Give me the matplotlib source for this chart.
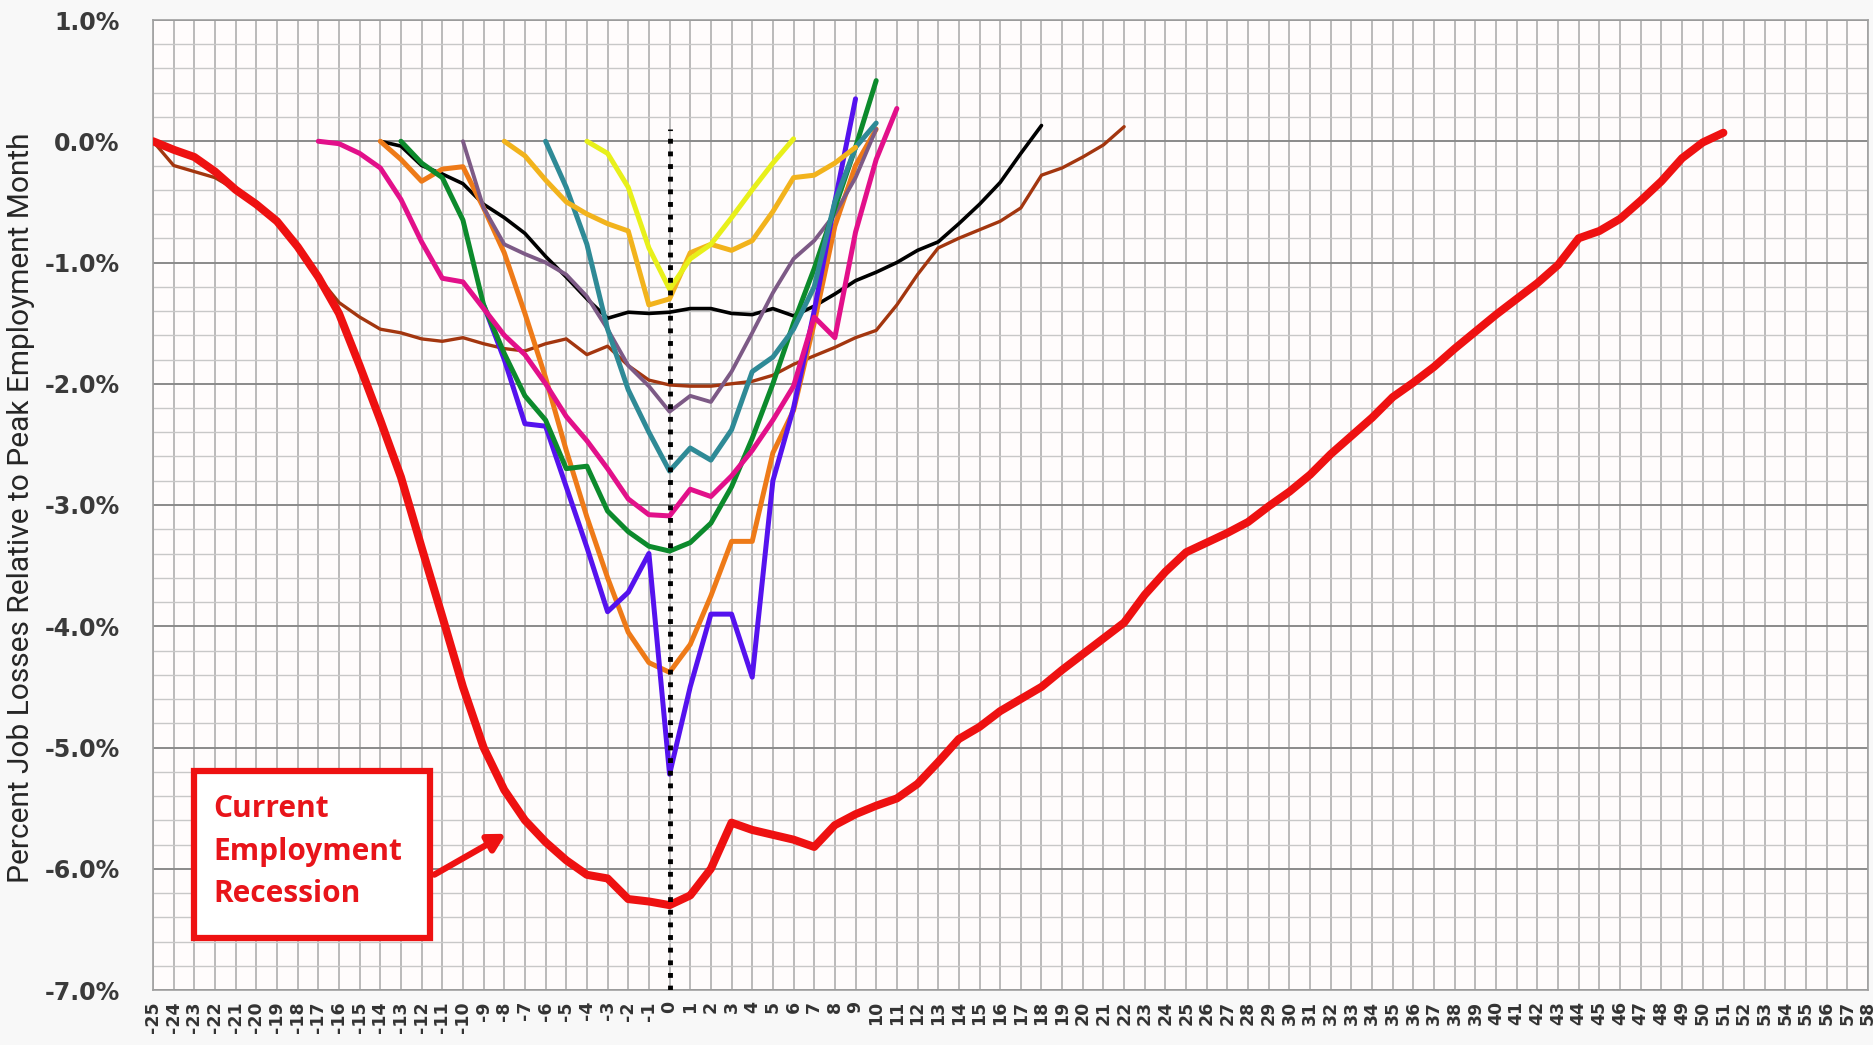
import numpy as np
import matplotlib
matplotlib.use("Agg")
import matplotlib.pyplot as plt
from matplotlib.ticker import MultipleLocator
from matplotlib.patches import Rectangle

# ------------------------------------------------------------
#  Data: percent job losses relative to peak employment month
#  (each series: first month, then one value per month)
# ------------------------------------------------------------

current_start = -25
current = [0.0, -0.07, -0.13, -0.25, -0.40, -0.52, -0.66, -0.87, -1.12, -1.42,
           -1.85, -2.30, -2.77, -3.35, -3.92, -4.50, -5.00, -5.35, -5.60, -5.78,
           -5.93, -6.05, -6.08, -6.25, -6.27, -6.30, -6.22, -6.00, -5.62, -5.68,
           -5.72, -5.76, -5.82, -5.64, -5.55, -5.48, -5.42, -5.30, -5.12, -4.93,
           -4.83, -4.70, -4.60, -4.50, -4.36, -4.23, -4.10, -3.97, -3.74, -3.55,
           -3.39, -3.31, -3.23, -3.14, -3.01, -2.89, -2.75, -2.58, -2.43, -2.28,
           -2.11, -1.99, -1.86, -1.71, -1.57, -1.43, -1.30, -1.17, -1.02, -0.80,
           -0.74, -0.64, -0.49, -0.33, -0.14, -0.01, 0.07]

brown_start = -25
brown = [0.0, -0.20, -0.25, -0.30, -0.40, -0.50, -0.66, -0.88, -1.12, -1.33,
         -1.45, -1.55, -1.58, -1.63, -1.65, -1.62, -1.67, -1.71, -1.73, -1.67,
         -1.63, -1.76, -1.69, -1.85, -1.97, -2.01, -2.02, -2.02, -2.00, -1.98,
         -1.93, -1.84, -1.77, -1.70, -1.62, -1.56, -1.35, -1.10, -0.88, -0.80,
         -0.73, -0.66, -0.55, -0.28, -0.22, -0.13, -0.03, 0.12]

black_start = -14
black = [0.0, -0.04, -0.20, -0.27, -0.35, -0.52, -0.63, -0.76, -0.95, -1.12,
         -1.30, -1.46, -1.41, -1.42, -1.41, -1.38, -1.38, -1.42, -1.43, -1.38,
         -1.44, -1.36, -1.26, -1.15, -1.08, -1.00, -0.90, -0.83, -0.68, -0.52,
         -0.34, -0.10, 0.13]

magenta_start = -17
magenta = [0.0, -0.02, -0.10, -0.22, -0.48, -0.83, -1.13, -1.16, -1.38, -1.60,
           -1.76, -2.00, -2.27, -2.47, -2.70, -2.95, -3.08, -3.09, -2.87, -2.93,
           -2.76, -2.55, -2.30, -2.02, -1.45, -1.62, -0.75, -0.15, 0.27]

green_start = -13
green = [0.0, -0.18, -0.30, -0.65, -1.35, -1.75, -2.10, -2.30, -2.70, -2.68,
         -3.05, -3.22, -3.34, -3.38, -3.31, -3.15, -2.85, -2.45, -2.00, -1.50,
         -1.05, -0.55, -0.05, 0.50]

blue_start = -9
blue = [-1.35, -1.80, -2.33, -2.35, -2.85, -3.35, -3.88, -3.72, -3.40, -5.22,
        -4.50, -3.90, -3.90, -4.42, -2.80, -2.20, -1.40, -0.50, 0.35]

orange_start = -14
orange = [0.0, -0.15, -0.33, -0.23, -0.21, -0.55, -0.92, -1.42, -1.95, -2.55,
          -3.10, -3.60, -4.05, -4.30, -4.38, -4.15, -3.75, -3.30, -3.30, -2.57,
          -2.22, -1.50, -0.70, -0.20, 0.10]

purple_start = -10
purple = [0.0, -0.55, -0.85, -0.93, -1.00, -1.10, -1.28, -1.55, -1.85, -2.02,
          -2.23, -2.10, -2.15, -1.90, -1.58, -1.25, -0.97, -0.82, -0.60, -0.30,
          0.10]

gold_start = -8
gold = [0.0, -0.12, -0.32, -0.50, -0.60, -0.68, -0.74, -1.35, -1.30, -0.92,
        -0.85, -0.90, -0.82, -0.58, -0.30, -0.28, -0.18, -0.05]

teal_start = -6
teal = [0.0, -0.38, -0.85, -1.55, -2.05, -2.40, -2.72, -2.53, -2.63, -2.38,
        -1.90, -1.78, -1.55, -1.20, -0.50, -0.05, 0.15]

yellow_start = -4
yellow = [0.0, -0.10, -0.38, -0.88, -1.22, -0.97, -0.85, -0.63, -0.40, -0.18,
          0.02]

month_ticks = list(range(-25, 59))
y_ticks = [1.0, 0.0, -1.0, -2.0, -3.0, -4.0, -5.0, -6.0, -7.0]

# ------------------------------------------------------------
#  Plot
# ------------------------------------------------------------

fig = plt.figure(figsize=(18.74, 10.45), dpi=100, facecolor="#f8f8f8")
ax = fig.add_axes([153 / 1874, 55 / 1045, 1715 / 1874, 970 / 1045])
ax.set_facecolor("#fffcfc")

ax.set_xlim(-25, 58)
ax.set_ylim(-7, 1)

ax.set_yticks(y_ticks)
ax.set_yticklabels([f"{v:.1f}%" for v in y_ticks], fontsize=17,
                   fontweight="bold", color="#3a3a3a")
ax.yaxis.set_minor_locator(MultipleLocator(0.2))
ax.set_xticks(month_ticks)
ax.set_xticklabels([str(m) for m in month_ticks], rotation=90, fontsize=12.5,
                   fontweight="bold", color="#333333")
ax.tick_params(axis="both", which="both", length=0)
ax.tick_params(axis="y", pad=24)
ax.tick_params(axis="x", pad=8)

ax.grid(True, which="major", axis="x", color="#a8a8a8", lw=1.1)
ax.grid(True, which="major", axis="y", color="#8a8a8a", lw=1.4)
ax.grid(True, which="minor", axis="y", color="#c8c8c8", lw=1.0)
ax.set_axisbelow(True)
for s in ax.spines.values():
    s.set_color("#a0a0a0")
    s.set_linewidth(1.2)

ylab = ax.set_ylabel("Percent Job Losses Relative to Peak Employment Month",
                     family=["Liberation Sans Narrow", "Roboto", "DejaVu Sans"],
                     fontsize=18, color="#262626")
ax.yaxis.set_label_coords(-0.069, 0.497)


def months(start, vals):
    return np.arange(start, start + len(vals))


series = [
    (brown_start, brown, "#a3360f", 2.4),
    (black_start, black, "#000000", 2.6),
    (orange_start, orange, "#ee7a18", 3.6),
    (purple_start, purple, "#7d5a86", 2.8),
    (blue_start, blue, "#5512ee", 3.6),
    (green_start, green, "#0c8a2c", 3.6),
    (magenta_start, magenta, "#e2108a", 3.6),
    (teal_start, teal, "#2f8a96", 3.6),
    (gold_start, gold, "#f2b31c", 3.6),
    (yellow_start, yellow, "#e8f01a", 3.6),
]
for start, vals, col, lw in series:
    ax.plot(months(start, vals), vals, color=col, lw=lw,
            solid_capstyle="round", solid_joinstyle="round", zorder=3)

ax.plot(months(current_start, current), current, color="#ee1111", lw=5.8,
        solid_capstyle="round", solid_joinstyle="round", zorder=4)

# peak-employment marker
ax.plot([0, 0], [-7, 0.1], color="black", lw=3.5, linestyle=(0, (1, 1.6)),
        zorder=5)

# annotation box
ax.add_patch(Rectangle((-23.0, -6.57), 11.4, 1.38, facecolor="white",
                       edgecolor="#ee1111", lw=4.5, zorder=6))
ax.text(-22.1, -5.86, "Current\nEmployment\nRecession", color="#e8141a",
        fontsize=21.5, fontweight="bold", family="Open Sans", va="center",
        ha="left", linespacing=1.55, zorder=7)
ax.annotate("", xy=(-7.8, -5.70), xytext=(-11.5, -6.06),
            arrowprops=dict(arrowstyle="-|>,head_length=1.0,head_width=0.55",
                            color="#ee1111", lw=4.5), zorder=7)

# fit the y-axis title to the height it takes in the reference (~750 px)
fig.canvas.draw()
h = ylab.get_window_extent().height
ylab.set_fontsize(18 * 750 / h)

fig.savefig("out.png", dpi=100, facecolor=fig.get_facecolor())
